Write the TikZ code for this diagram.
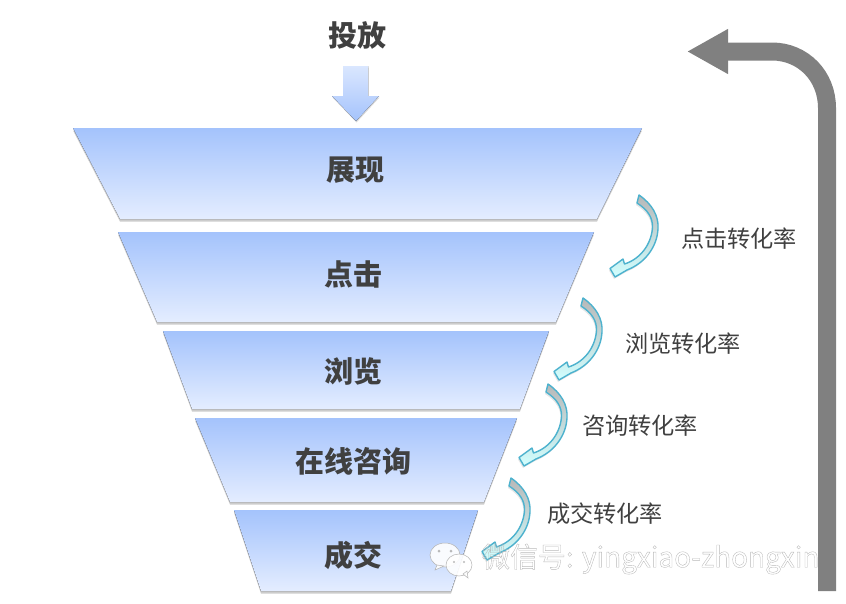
\documentclass[tikz,border=0pt]{standalone}
\usepackage{fontspec}
\setmainfont{Noto Sans CJK SC}
\usetikzlibrary{arrows.meta,shadows}
\definecolor{layertop}{HTML}{A4C3FC}
\definecolor{layerbot}{HTML}{E4EDFF}
\definecolor{labelgray}{HTML}{404040}
\definecolor{returngray}{HTML}{808080}
\definecolor{turnline}{HTML}{4DB2CE}
\newcommand{\outlinetext}[1]{\special{pdf:code 1 Tr 0.35 w}#1\special{pdf:code 0 Tr}}
\tikzset{
	layer/.style={top color=layertop, bottom color=layerbot, draw=none,
		drop shadow={shadow xshift=0pt, shadow yshift=-2.5pt, opacity=0.4, fill=black!50}},
	layerlabel/.style={font=\fontsize{29}{29}\selectfont\bfseries, text=labelgray, inner sep=0pt},
	ratelabel/.style={font=\fontsize{23.2}{23.2}\selectfont, text=labelgray, inner sep=0pt},
	turnarrow/.pic={
		\draw[line width=1.4pt, draw=turnline, top color=black!28, bottom color=cyan!18, line join=round,
			drop shadow={shadow xshift=-1pt, shadow yshift=-2pt, opacity=0.2}]
			(639,195) .. controls (652,204) and (659,216) .. (658,229)
			.. controls (657,247) and (645,263) .. (627,270)
			-- (615,277) -- (610,268.5) -- (623,259) -- (624.5,264)
			.. controls (640,259) and (651,245) .. (652.5,228)
			.. controls (653,218) and (648,210) .. (637,203) -- cycle;
	}
}
\begin{document}
\begin{tikzpicture}[x=1pt, y=-1pt, line cap=butt, line join=miter]
	\useasboundingbox (0,0) rectangle (846,603);

	% funnel
	\foreach \a/\b/\c/\d/\e/\f in {
		128/219/73/642/120/597,
		232/322/118/594/157/556,
		331/409/163/549/192/520,
		418/502/195/517/230/484,
		510/591/234/478/261/451
	}
	\fill[layer] (\c,\a) -- (\d,\a) -- (\f,\b) -- (\e,\b) -- cycle;

	\foreach \n/\x/\y/\t in {
		show/355/170/展现,
		click/353/274/点击,
		browse/353/371/浏览,
		consult/353/461/在线咨询,
		deal/353/555/成交
	}
	\node[layerlabel] (\n) at (\x,\y) {\t};

	% input
	\node[layerlabel] (input) at (357,35.5) {投放};
	\fill[top color=layerbot!85!layertop, bottom color=layertop,
		drop shadow={shadow xshift=0.5pt, shadow yshift=-1.5pt, opacity=0.3}]
		(343,66) -- (368,66) -- (368,96) -- (379,96) -- (356,121) -- (332,96) -- (343,96) -- cycle;

	% rates
	\foreach \dx/\dy in {0/0, -56/103, -91/189, -128/283}
	\pic at (\dx,\dy) {turnarrow};

	\foreach \n/\x/\y/\t in {
		rateclick/739/239/点击转化率,
		ratebrowse/683/344/浏览转化率,
		rateconsult/640/426/咨询转化率,
		ratedeal/605/514/成交转化率
	}
	\node[ratelabel] (\n) at (\x,\y) {\t};

	% return line
	\coordinate (retstart) at (827,591);
	\coordinate (retend) at (687,51.5);
	\draw[line width=18pt, draw=returngray, -{Triangle[width=42pt,length=41pt]}]
		(retstart) -- (827,108) .. controls (827,76) and (803,51.5) .. (772,51.5) -- (retend);

	% watermark
	\begin{scope}[draw=black!30, fill=white, line width=0.5pt, fill opacity=0.9]
		\filldraw (445,555) ellipse[x radius=15, y radius=12];
		\filldraw (437,565) -- (435,570) -- (444,566) -- cycle;
		\filldraw (459,565) ellipse[x radius=13, y radius=11];
		\filldraw (463,574) -- (468,578) -- (467,571) -- cycle;
		\fill[black!30] (439,551) circle (1.5) (451,551) circle (1.5) (454,562) circle (1.2) (464,562) circle (1.2);
	\end{scope}
	\node[anchor=west, inner sep=0pt, text=black!28, font=\fontsize{27.9}{27.9}\selectfont] (mark) at (482,559) {\outlinetext{微信号: yingxiao-zhongxin}};
\end{tikzpicture}
\end{document}
